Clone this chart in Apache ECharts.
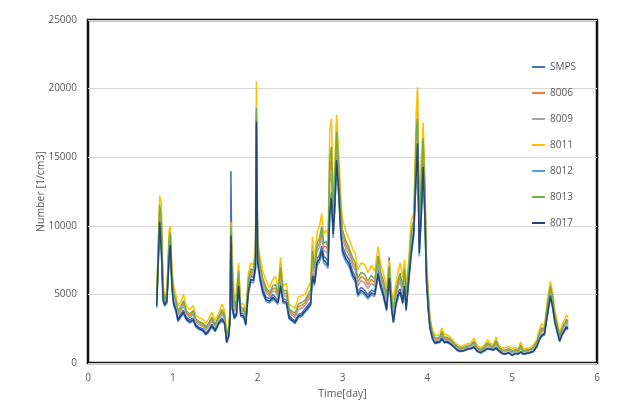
<!DOCTYPE html>
<html><head><meta charset="utf-8">
<script src="https://cdn.jsdelivr.net/npm/echarts@6/dist/echarts.min.js"></script>
<style>html,body{margin:0;padding:0;background:#fff}#c{width:620px;height:401px}</style>
</head><body><div id="c"></div>
<script>
const times=[0.81,0.845,0.865,0.885,0.905,0.93,0.955,0.97,0.99,1.01,
1.035,1.06,1.09,1.125,1.16,1.2,1.24,1.27,1.31,1.35,
1.39,1.42,1.46,1.5,1.54,1.58,1.61,1.635,1.66,1.675,
1.685,1.70,1.725,1.75,1.775,1.80,1.835,1.86,1.89,1.92,
1.95,1.975,1.985,2.0,2.03,2.06,2.1,2.14,2.18,2.21,
2.24,2.27,2.3,2.34,2.37,2.41,2.44,2.48,2.52,2.56,
2.6,2.625,2.645,2.67,2.7,2.73,2.755,2.78,2.81,2.83,
2.85,2.87,2.89,2.91,2.93,2.955,2.98,3.0,3.04,3.08,
3.12,3.15,3.18,3.22,3.26,3.3,3.34,3.38,3.42,3.45,
3.48,3.52,3.55,3.58,3.6,3.63,3.66,3.68,3.71,3.73,
3.75,3.78,3.81,3.84,3.87,3.885,3.905,3.93,3.95,3.97,
3.99,4.01,4.03,4.06,4.09,4.12,4.15,4.17,4.2,4.23,
4.27,4.31,4.35,4.39,4.43,4.47,4.51,4.55,4.59,4.63,
4.67,4.71,4.75,4.78,4.81,4.84,4.88,4.92,4.96,5.0,
5.04,5.07,5.1,5.13,5.17,5.21,5.25,5.29,5.32,5.35,
5.38,5.41,5.45,5.48,5.5,5.53,5.56,5.59,5.62,5.64,
5.66];
const smps=[4320,10700,8530,4780,4420,4680,7900,8940,5720,4470,
4060,3220,3540,3850,3330,3120,3280,2810,2600,2500,
2180,2390,2810,2440,3020,3280,3020,1560,2080,3330,
14000,4300,3430,3640,5820,3640,3540,2910,5410,6340,
6240,7280,17800,7700,6340,5410,4780,4680,4990,4780,
4580,5820,4680,4580,3430,3220,3070,3540,3640,3950,
4260,4470,6550,6030,7590,7900,8530,7800,7590,7380,
11440,12480,9780,11960,15390,13000,9880,8530,7900,7490,
6660,6340,5200,5510,5300,4990,5300,5200,6760,5820,
5200,4060,7700,4060,3120,4470,5200,5410,4580,5820,
4060,6240,8320,9880,14560,16500,8320,11440,14870,11440,
6240,4160,2700,1870,1510,1560,1610,1870,1560,1610,
1460,1250,990,880,940,1040,1090,1200,880,780,
940,1090,1040,990,1140,940,730,680,780,570,
730,680,830,680,730,780,880,1250,1770,2080,
2180,3430,5100,4160,3220,2390,1660,2180,2500,2700,
2600];
const s8006=[4700,11250,9900,5200,4480,4950,8600,9300,6150,4950,
4450,3650,3900,4350,3650,3450,3680,3100,2900,2800,
2500,2750,3200,2730,3250,3730,3350,1850,2400,3700,
9800,6000,3900,4350,6450,3900,3850,3250,5850,6700,
6550,7750,18500,8200,6850,5950,5300,5000,5450,5450,
4950,6650,5050,5100,3800,3600,3480,4100,4200,4400,
4850,5100,7750,6650,8400,8800,9550,8450,8500,8050,
14000,14900,10650,13000,16450,13950,10750,9350,8600,8100,
7350,7050,5900,6300,6150,5700,6100,5850,7500,6400,
5800,4700,6850,4550,3800,5050,5900,6250,5300,6550,
4800,6700,9200,10200,16250,17650,9500,13000,15900,12500,
6900,4750,3000,2100,1750,1750,1830,2180,1800,1800,
1650,1400,1150,1030,1100,1200,1250,1480,1050,930,
1100,1380,1200,1150,1500,1100,900,880,980,800,
930,830,1180,830,900,930,1080,1450,2050,2450,
2350,3850,5430,4550,3500,2700,1900,2450,2800,3050,
2900];
const s8009=[4540,10970,9390,5020,4410,4820,8300,9090,5960,4760,
4290,3490,3750,4160,3520,3320,3520,2980,2780,2680,
2380,2620,3050,2610,3150,3550,3220,1750,2280,3550,
9650,5400,3720,4100,6200,3780,3720,3120,5660,6520,
6390,7530,18200,7960,6630,5730,5090,4850,5260,5200,
4790,6340,4890,4890,3650,3450,3320,3890,3990,4220,
4630,4860,7320,6400,8070,8440,9150,8170,8140,7770,
13100,14030,10280,12550,15960,13520,10380,9010,8300,7830,
7070,6770,5630,6000,5840,5430,5800,5600,7200,6160,
5560,4460,6660,4360,3560,4830,5630,5940,5030,6270,
4530,6490,8840,9990,15580,19800,9050,12400,15420,12050,
6630,4530,2880,2010,1660,1680,1740,2060,1710,1730,
1580,1340,1090,970,1040,1140,1190,1380,990,870,
1040,1280,1140,1090,1380,1040,840,810,910,730,
860,770,1060,770,840,870,1010,1380,1950,2320,
2280,3690,5270,4390,3380,2580,1810,2350,2680,2920,
2780];
const s8011=[5250,12200,11600,5800,4700,5400,9600,10000,6800,5600,
5000,4200,4400,5000,4100,3900,4200,3500,3300,3200,
2900,3200,3700,3100,3600,4300,3800,2200,2800,4200,
10300,8000,4500,5200,7300,4300,4300,3700,6500,7300,
7100,8500,20500,9000,7600,6700,6000,5500,6100,6300,
5500,7700,5600,5800,4300,4100,4000,4800,4900,5000,
5600,5900,9200,7500,9500,10000,10900,9400,9700,9000,
17000,17800,11900,14500,18100,15400,12000,10500,9600,9000,
8300,8000,6800,7300,7200,6600,7100,6700,8500,7200,
6600,5500,7500,5200,4600,5800,6800,7300,6200,7500,
5700,7400,10400,10900,18500,20100,11000,15000,17500,14000,
7800,5500,3400,2400,2050,2000,2100,2550,2100,2050,
1900,1600,1350,1200,1300,1400,1450,1800,1250,1100,
1300,1700,1400,1350,1900,1300,1100,1100,1200,1050,
1150,1000,1550,1000,1100,1100,1300,1700,2400,2900,
2600,4400,5950,5100,3900,3100,2200,2800,3200,3500,
3300];
const s8012=[4030,9990,7950,4460,4120,4370,7370,8340,5340,4170,
3780,3010,3300,3590,3100,2910,3060,2620,2430,2330,
2040,2230,2620,2280,2810,3060,2810,1460,1940,3100,
9100,3880,3200,3400,5430,3400,3300,2720,5040,5920,
5820,6790,17100,7180,5920,5040,4460,4370,4660,4460,
4270,5430,4370,4270,3200,3010,2860,3300,3400,3690,
3980,4170,6110,5630,7080,7370,7950,7280,7080,6890,
10670,11640,9120,11160,14360,12130,9220,7950,7370,6980,
6210,5920,4850,5140,4950,4660,4950,4850,6310,5430,
4850,3780,6010,3780,2910,4170,4850,5040,4270,5430,
3780,5820,7760,9220,13580,15500,7760,10670,13870,10670,
5820,3880,2520,1750,1410,1460,1500,1750,1460,1500,
1360,1160,920,820,870,970,1020,1120,820,730,
870,1020,970,920,1070,870,680,630,730,530,
680,630,780,630,680,730,820,1160,1650,1940,
2040,3200,4750,3880,3010,2230,1550,2040,2330,2520,
2430];
const s8013=[4870,11540,10410,5380,4540,5090,8900,9510,6350,5150,
4620,3820,4050,4550,3790,3590,3830,3220,3020,2920,
2620,2890,3350,2840,3360,3900,3490,1960,2520,3850,
9950,6600,4080,4610,6710,4020,3990,3390,6050,6880,
6720,7980,18600,8440,7080,6180,5510,5150,5650,5710,
5120,6970,5220,5310,3950,3750,3630,4310,4410,4580,
5080,5340,8190,6910,8730,9160,9960,8740,8860,8340,
14900,15770,11030,13450,16870,14390,11130,9700,8900,8370,
7640,7340,6170,6600,6470,5970,6400,6110,7800,6640,
6040,4940,7050,4750,4040,5280,6170,6570,5570,6840,
5070,6910,9560,10410,16930,17800,9950,13600,16380,12950,
7170,4980,3120,2190,1840,1830,1910,2290,1890,1880,
1730,1460,1210,1080,1160,1260,1310,1570,1110,980,
1160,1470,1260,1210,1620,1160,960,940,1040,880,
990,880,1290,880,960,980,1140,1530,2160,2590,
2430,4020,5580,4720,3620,2820,1990,2560,2920,3190,
3020];
const s8017=[4150,10300,8200,4600,4250,4500,7600,8600,5500,4300,
3900,3100,3400,3700,3200,3000,3150,2700,2500,2400,
2100,2300,2700,2350,2900,3150,2900,1500,2000,3200,
9300,4000,3300,3500,5600,3500,3400,2800,5200,6100,
6000,7000,17600,7400,6100,5200,4600,4500,4800,4600,
4400,5600,4500,4400,3300,3100,2950,3400,3500,3800,
4100,4300,6300,5800,7300,7600,8200,7500,7300,7100,
11000,12000,9400,11500,14800,12500,9500,8200,7600,7200,
6400,6100,5000,5300,5100,4800,5100,5000,6500,5600,
5000,3900,6200,3900,3000,4300,5000,5200,4400,5600,
3900,6000,8000,9500,14000,16000,8000,11000,14300,11000,
6000,4000,2600,1800,1450,1500,1550,1800,1500,1550,
1400,1200,950,850,900,1000,1050,1150,850,750,
900,1050,1000,950,1100,900,700,650,750,550,
700,650,800,650,700,750,850,1200,1700,2000,
2100,3300,4900,4000,3100,2300,1600,2100,2400,2600,
2500];
const seriesNames=['SMPS','8006','8009','8011','8012','8013','8017'];
const seriesValues=[smps,s8006,s8009,s8011,s8012,s8013,s8017];
const colors=['#4472C4','#ED7D31','#A5A5A5','#FFC000','#5B9BD5','#70AD47','#264478'];
const font='Open Sans';
const txt='#595959';
const chart=echarts.init(document.getElementById('c'),null,{renderer:'canvas'});
chart.setOption({
  animation:false,
  color:colors,
  grid:{left:88,right:23,top:20,bottom:38,show:true,borderColor:'#111',borderWidth:2.5,backgroundColor:'transparent',
    containLabel:false,outerBoundsMode:'none'},
  legend:{orient:'vertical',left:527,top:57,itemGap:16,itemWidth:13,itemHeight:2,icon:'rect',
    textStyle:{color:txt,fontSize:10,fontFamily:font},data:seriesNames},
  xAxis:{type:'value',min:0,max:6,interval:1,name:'Time[day]',nameLocation:'middle',nameGap:26,nameMoveOverlap:false,
    nameTextStyle:{color:txt,fontSize:10.5,fontFamily:font},
    axisLine:{show:false},axisTick:{show:false},splitLine:{show:false},
    axisLabel:{margin:10,color:txt,fontSize:10,fontFamily:font,formatter:v=>String(v)}},
  yAxis:{type:'value',min:0,max:25000,interval:5000,name:'Number [1/cm3]',nameLocation:'middle',nameGap:41,nameMoveOverlap:false,
    nameTextStyle:{color:txt,fontSize:10.5,fontFamily:font},
    axisLine:{show:false},axisTick:{show:false},
    splitLine:{lineStyle:{color:'#d9d9d9',width:1}},
    axisLabel:{margin:11,color:txt,fontSize:10,fontFamily:font,formatter:v=>String(v)}},
  series:seriesNames.map((n,i)=>({name:n,type:'line',showSymbol:false,symbol:'none',
    lineStyle:{width:1.5,color:colors[i]},itemStyle:{color:colors[i]},
    data:times.map((t,k)=>[t,seriesValues[i][k]])}))
});
</script></body></html>
